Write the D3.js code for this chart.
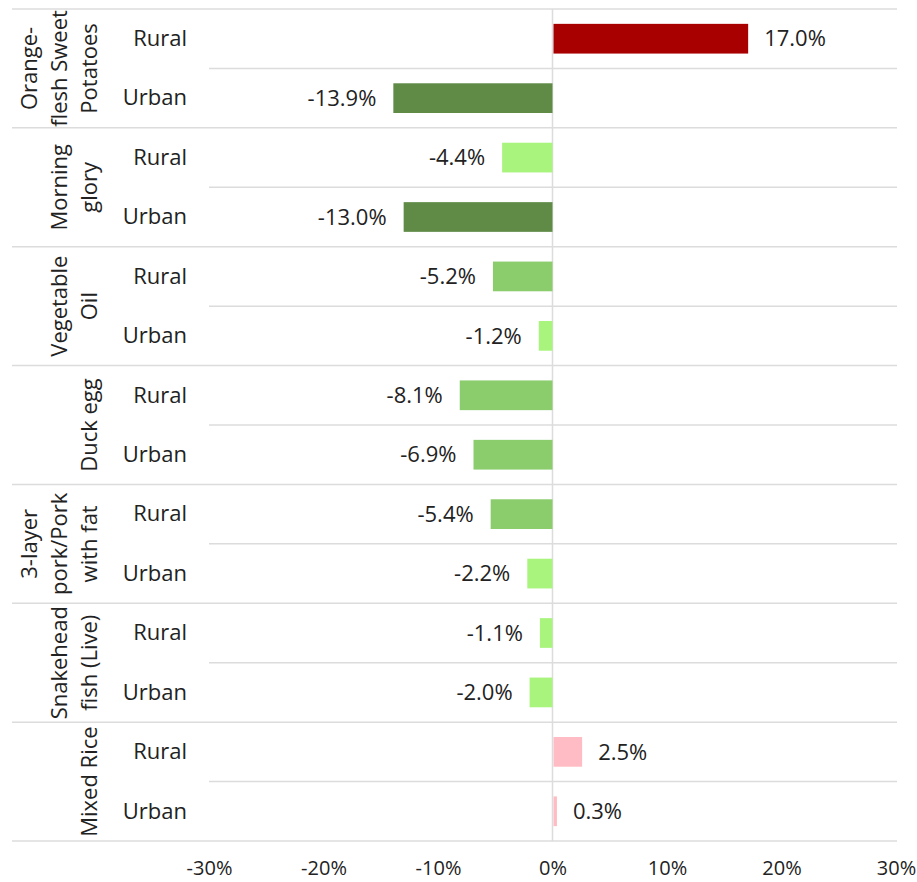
<!DOCTYPE html>
<html>
  <head>
    <meta charset="utf-8" />
    <style>
      body {
        margin: 0;
        background: #fff;
      }
      text {
        font-family: "Open Sans", sans-serif;
        fill: #222;
      }
    </style>
    <script src="https://d3js.org/d3.v7.min.js"></script>
  </head>
  <body>
    <div id="chart"></div>
    <script type="text/javascript">
      // data
      var groupLabels = [
        ["Orange-", "flesh Sweet", "Potatoes"],
        ["Morning", "glory"],
        ["Vegetable", "Oil"],
        ["Duck egg"],
        ["3-layer", "pork/Pork", "with fat"],
        ["Snakehead", "fish (Live)"],
        ["Mixed Rice"],
      ];
      var areas = ["Rural", "Urban"];
      var ruralValues = [17.0, -4.4, -5.2, -8.1, -5.4, -1.1, 2.5];
      var urbanValues = [-13.9, -13.0, -1.2, -6.9, -2.2, -2.0, 0.3];
      var tickValues = [-30, -20, -10, 0, 10, 20, 30];

      var w = 917;
      var h = 882;

      // one row per group/area pair
      var rows = [];
      groupLabels.forEach(function (g, i) {
        rows.push({ group: i, area: areas[0], value: ruralValues[i] });
        rows.push({ group: i, area: areas[1], value: urbanValues[i] });
      });
      rows.forEach(function (r, i) {
        r.key = i;
      });

      var x = d3.scaleLinear().domain([-30, 30]).range([209, 896]);
      var y = d3
        .scaleBand()
        .domain(rows.map(function (d) { return d.key; }))
        .range([9, 841])
        .paddingInner(0)
        .paddingOuter(0);

      var color = d3
        .scaleThreshold()
        .domain([-10, -5, 0, 10])
        .range(["#5f8b46", "#8bcc6c", "#a8f47d", "#ffbcc4", "#a80000"]);

      // plain hyphen for negatives, like the original
      var fmt = d3.formatLocale({ decimal: ".", thousands: ",", grouping: [3], currency: ["", ""], minus: "-" });
      var pct1 = fmt.format(".1f");

      var svg = d3
        .select("#chart")
        .append("svg")
        .attr("width", w)
        .attr("height", h);

      var gridColor = "#dcdcdc";

      // horizontal lines: row separators inside groups, full lines between groups
      var lineYs = [];
      rows.forEach(function (d, i) {
        lineYs.push({ y: y(d.key), full: i % 2 === 0 });
      });
      lineYs.push({ y: y.range()[1], full: true });

      svg
        .selectAll("line.grid")
        .data(lineYs)
        .enter()
        .append("line")
        .attr("class", "grid")
        .attr("x1", function (d) { return d.full ? 12 : 209; })
        .attr("x2", 897)
        .attr("y1", function (d) { return d.y; })
        .attr("y2", function (d) { return d.y; })
        .attr("stroke", gridColor)
        .attr("stroke-width", 1.5);

      // zero line
      svg
        .append("line")
        .attr("x1", x(0))
        .attr("x2", x(0))
        .attr("y1", y.range()[0])
        .attr("y2", y.range()[1])
        .attr("stroke", gridColor)
        .attr("stroke-width", 1.5);

      // bars
      var barH = y.bandwidth() / 2;
      svg
        .selectAll("rect.bar")
        .data(rows)
        .enter()
        .append("rect")
        .attr("class", "bar")
        .attr("x", function (d) { return x(Math.min(0, d.value)) + (d.value > 0 ? 1 : 0); })
        .attr("width", function (d) { return Math.abs(x(d.value) - x(0)); })
        .attr("y", function (d) { return y(d.key) + (y.bandwidth() - barH) / 2; })
        .attr("height", barH)
        .attr("fill", function (d) { return color(d.value); });

      // value labels
      svg
        .selectAll("text.val")
        .data(rows)
        .enter()
        .append("text")
        .attr("class", "val")
        .attr("x", function (d) { return d.value < 0 ? x(d.value) - 17 : x(d.value) + 17; })
        .attr("y", function (d) { return y(d.key) + y.bandwidth() / 2; })
        .attr("dy", "0.35em")
        .attr("text-anchor", function (d) { return d.value < 0 ? "end" : "start"; })
        .attr("font-size", 22)
        .text(function (d) { return pct1(d.value) + "%"; });

      // area labels
      svg
        .selectAll("text.area")
        .data(rows)
        .enter()
        .append("text")
        .attr("class", "area")
        .attr("x", 187)
        .attr("y", function (d) { return y(d.key) + y.bandwidth() / 2; })
        .attr("dy", "0.33em")
        .attr("text-anchor", "end")
        .attr("font-size", 22)
        .text(function (d) { return d.area; });

      // group labels, rotated
      var groups = svg
        .selectAll("g.group")
        .data(groupLabels)
        .enter()
        .append("g")
        .attr("class", "group")
        .attr("transform", function (d, i) {
          var cy = y(i * 2) + y.bandwidth();
          return "translate(97," + cy + ")rotate(-90)";
        });

      groups
        .selectAll("text")
        .data(function (d) {
          return d.map(function (t, j) { return { t: t, off: (d.length - 1 - j) * 30 }; });
        })
        .enter()
        .append("text")
        .attr("x", 0)
        .attr("y", function (d) { return -d.off; })
        .attr("text-anchor", "middle")
        .attr("font-size", 22)
        .text(function (d) { return d.t; });

      // x axis
      var axis = d3
        .axisBottom(x)
        .tickValues(tickValues)
        .tickSize(0)
        .tickPadding(0)
        .tickFormat(function (d) { return fmt.format("d")(d) + "%"; });

      var ax = svg.append("g").attr("transform", "translate(0,861)").call(axis);
      ax.select(".domain").remove();
      ax.selectAll("text")
        .attr("font-size", 20)
        .attr("font-family", "Open Sans, sans-serif")
        .attr("fill", "#222");
    </script>
  </body>
</html>
